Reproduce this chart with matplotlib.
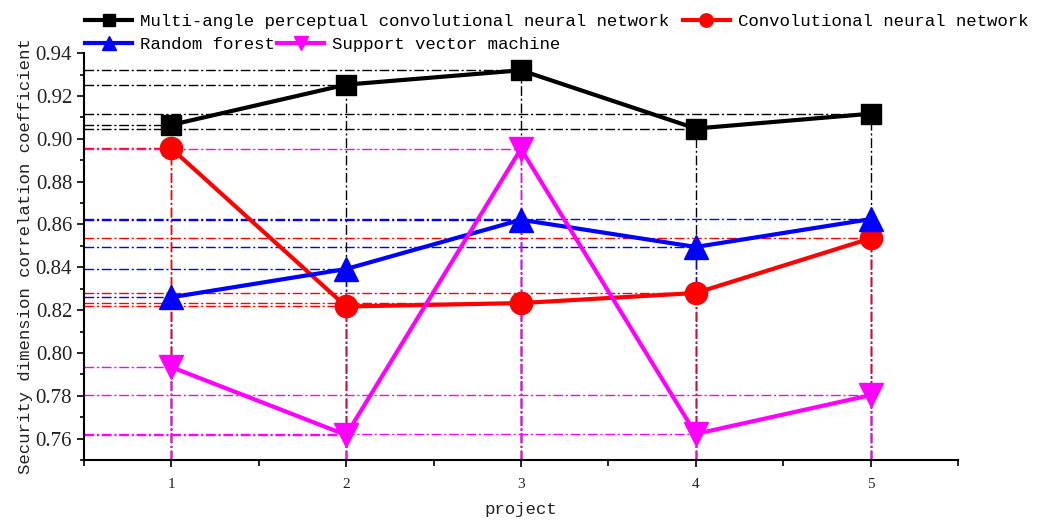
import matplotlib.pyplot as plt
import numpy as np

projects = [1, 2, 3, 4, 5]
macnn = [0.9065, 0.9253, 0.9320, 0.9048, 0.9117]
cnn = [0.8955, 0.8217, 0.8233, 0.8280, 0.8535]
rf = [0.8260, 0.8392, 0.8622, 0.8495, 0.8625]
svm = [0.7934, 0.7617, 0.8953, 0.7622, 0.7803]

names = ["Multi-angle perceptual convolutional neural network",
         "Convolutional neural network",
         "Random forest",
         "Support vector machine"]

font = "Liberation Mono"
tick_font = "Liberation Serif"
plt.rcParams['font.family'] = font

fig = plt.figure(figsize=(10.43, 5.21), dpi=100)
ax = fig.add_axes([0.0805, 0.117, 0.838, 0.781])

x0, x1 = 0.5, 5.5
y0, y1 = 0.75, 0.94
drop_style = (0, (7, 2, 1.5, 2))

# series drawn in this order so overlaps look like the original
# (values, colour, marker, size, name, zorder of the drop lines)
series = [
    (cnn, 'red', 'o', 16, names[1], 1.3),
    (rf, 'blue', '^', 17, names[2], 1.2),
    (svm, 'magenta', 'v', 17, names[3], 1.4),
    (macnn, 'black', 's', 15, names[0], 1.1),
]

handles = {}
for vals, col, mk, ms, name, dz in series:
    # drop lines to the axes
    ax.hlines(vals, x0, projects, colors=col, linestyles=[drop_style], lw=1.0, zorder=dz)
    ax.vlines(projects, y0, vals, colors=col, linestyles=[drop_style], lw=1.0, zorder=dz)
    h, = ax.plot(projects, vals, color=col, marker=mk, markersize=ms, lw=3,
                 label=name, zorder=3)
    handles[name] = h

ax.set_xlim(x0, x1)
ax.set_ylim(y0, y1)
ax.set_xticks(projects)
ax.set_xticks(np.arange(0.5, 5.51, 0.5), minor=True)
ax.set_yticks(np.arange(0.76, 0.9401, 0.02))
ax.set_yticks(np.arange(0.75, 0.9401, 0.01), minor=True)
ax.yaxis.set_major_formatter(plt.FormatStrFormatter('%.2f'))
ax.tick_params(axis='y', which='major', labelsize=15, length=5, width=1.2,
               labelcolor='#222222', labelfontfamily=tick_font)
ax.tick_params(axis='y', which='minor', length=3, width=1.2)
ax.tick_params(axis='x', which='major', labelsize=11, length=5, width=1.2, pad=8,
               labelcolor='#222222', labelfontfamily=tick_font)
ax.tick_params(axis='x', which='minor', length=4, width=1.2)

for side in ['top', 'right']:
    ax.spines[side].set_visible(False)
for side in ['left', 'bottom']:
    ax.spines[side].set_linewidth(1.5)

ax.set_xlabel("project", fontsize=12.5, labelpad=8, color='#222222')
ax.set_ylabel("Security dimension correlation coefficient", fontsize=12.5,
              labelpad=2, color='#222222')

leg1 = fig.legend([handles[names[0]], handles[names[1]]], names[:2], ncol=2,
                  loc='upper left', bbox_to_anchor=(0.075, 0.987), frameon=False,
                  fontsize=12.5, handlelength=2.7, handletextpad=0.45,
                  columnspacing=0.8, markerscale=0.6, borderaxespad=0)
leg2 = fig.legend([handles[names[2]], handles[names[3]]], names[2:], ncol=2,
                  loc='upper left', bbox_to_anchor=(0.075, 0.942), frameon=False,
                  fontsize=12.5, handlelength=2.7, handletextpad=0.45,
                  columnspacing=0.15, markerscale=0.6, borderaxespad=0)

fig.savefig("out.png", dpi=100)
